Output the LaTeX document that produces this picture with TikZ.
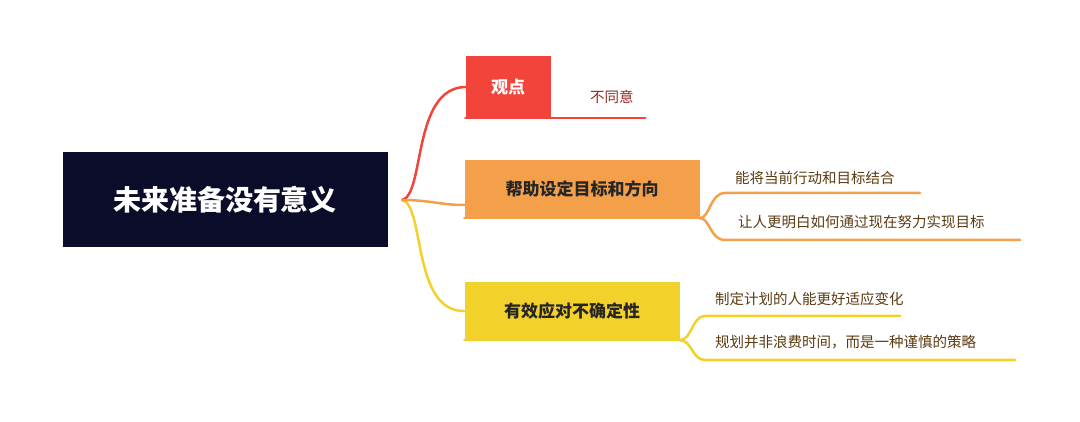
\documentclass[tikz,border=0pt]{standalone}
\usepackage{fontspec}
\setmainfont{Noto Sans CJK SC}
\usetikzlibrary{positioning}
\definecolor{navy}{HTML}{0B0B2A}
\definecolor{redc}{HTML}{F2443A}
\definecolor{orangec}{HTML}{F4A04A}
\definecolor{yellowc}{HTML}{F2D12A}
\definecolor{txt}{HTML}{5A3A10}

\begin{document}
\begin{tikzpicture}
[
                  x = 1pt,
                  y = -1pt,
     topic/.style = { draw=none, inner sep=0pt, minimum height=58pt, font=\fontsize{17}{20}\selectfont\bfseries },
      leaf/.style = { draw=none, inner sep=0pt, anchor=west, text=txt, font=\fontsize{14.5}{17}\selectfont },
      wire/.style = { line width=2.5pt, line cap=round }
]
    \useasboundingbox (0,0) rectangle (1080,422);

    % centre
    \node (Root) at (225,200) [fill=navy, minimum width=325pt, minimum height=95pt, text=white,
        font=\fontsize{28}{32}\selectfont\bfseries] {未来准备没有意义};

    % main topics
    \node (View)  at (508,87)  [topic, fill=redc, text=white, minimum width=85pt, minimum height=62pt] {观点};
    \node (Help)  at (582,189) [topic, fill=orangec, text=black!85, minimum width=235pt] {帮助设定目标和方向};
    \node (Cope)  at (572,311) [topic, fill=yellowc, text=black!85, minimum width=215pt] {有效应对不确定性};

    \coordinate (Fork) at (402,200);
    \draw[wire, redc]    (Fork) .. controls (425,195) and (412,88) .. (View.west);
    \draw[wire, yellowc] (Fork) .. controls (425,205) and (412,312) .. (Cope.west);
    \draw[wire, orangec] (Fork) .. controls (430,200) and (440,205) .. (Help.west |- 0,205) -- ++(12,0);

    % leaves of View
    \node (Disagree) at (590,97) [leaf, text=redc!60!black] {不同意};
    \draw[wire, redc] (View.south west) -- ++(180,0);

    % leaves of Help
    \node (HelpA) at (735,178) [leaf] {能将当前行动和目标结合};
    \node (HelpB) at (738,222) [leaf] {让人更明白如何通过现在努力实现目标};
    \draw[wire, orangec] (Help.south west) -- (Help.south east);
    \draw[wire, orangec] (Help.south east) .. controls (710,218) and (710,193) .. (725,193) -- (920,193);
    \draw[wire, orangec] (Help.south east) .. controls (710,218) and (710,240) .. (725,240) -- (1020,240);

    % leaves of Cope
    \node (CopeA) at (715,299) [leaf] {制定计划的人能更好适应变化};
    \node (CopeB) at (715,342) [leaf] {规划并非浪费时间，而是一种谨慎的策略};
    \draw[wire, yellowc] (Cope.south west) -- (Cope.south east);
    \draw[wire, yellowc] (Cope.south east) .. controls (692,340) and (692,316) .. (705,316) -- (900,316);
    \draw[wire, yellowc] (Cope.south east) .. controls (692,340) and (692,360) .. (705,360) -- (1015,360);
\end{tikzpicture}
\end{document}
